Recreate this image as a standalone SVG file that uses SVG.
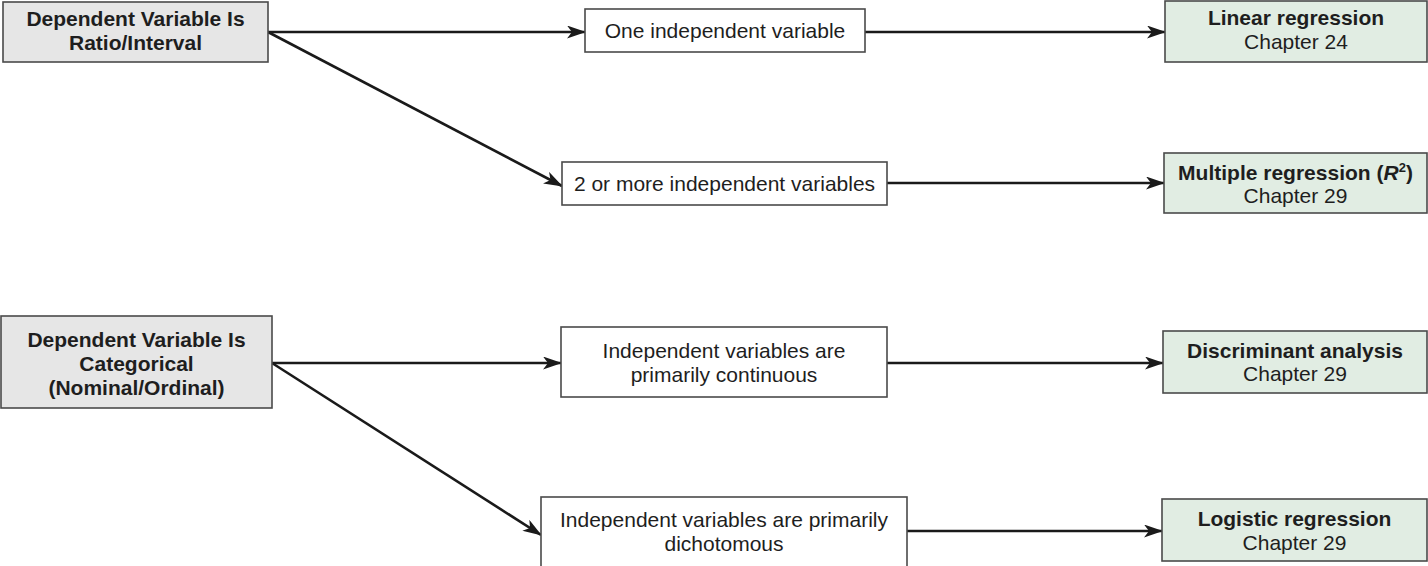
<svg xmlns="http://www.w3.org/2000/svg" width="1428" height="566" viewBox="0 0 1428 566">
  <style>
    .box { stroke: #4a4a4a; stroke-width: 1.6; }
    .dep { fill: #e6e6e6; }
    .mid { fill: #ffffff; }
    .res { fill: #e1ede3; }
    text { font-family: "Liberation Sans", Arial, sans-serif; font-size: 21px; fill: #1e1e1e; text-anchor: middle; }
    .b { font-weight: bold; }
    .conn { stroke: #1a1a1a; stroke-width: 2.6; fill: none; marker-end: url(#arrow); }
  </style>
  <defs>
    <marker id="arrow" markerUnits="userSpaceOnUse" markerWidth="22" markerHeight="14" refX="18" refY="6.5" orient="auto">
      <path d="M0,0 L19,6.5 L0,13 L5,6.5 z" fill="#1a1a1a"/>
    </marker>
  </defs>
  <rect width="1428" height="566" fill="#ffffff"/>

  <!-- connectors -->
  <g id="connectors">
    <line class="conn" x1="268" y1="32" x2="585" y2="32"/>
    <line class="conn" x1="268" y1="32" x2="562" y2="186"/>
    <line class="conn" x1="865" y1="32" x2="1165" y2="32"/>
    <line class="conn" x1="887" y1="183" x2="1164" y2="183"/>
    <line class="conn" x1="272" y1="363" x2="561" y2="363"/>
    <line class="conn" x1="272" y1="363" x2="541" y2="535"/>
    <line class="conn" x1="887" y1="363" x2="1163" y2="363"/>
    <line class="conn" x1="907" y1="531" x2="1162" y2="531"/>
  </g>

  <!-- dependent variable boxes -->
  <g id="dep-ratio">
    <rect class="box dep" x="3" y="2" width="265" height="60"/>
    <text class="b" x="135.5" y="26">Dependent Variable Is</text>
    <text class="b" x="135.5" y="50">Ratio/Interval</text>
  </g>
  <g id="dep-categorical">
    <rect class="box dep" x="1" y="316" width="271" height="92"/>
    <text class="b" x="136.5" y="347">Dependent Variable Is</text>
    <text class="b" x="136.5" y="371">Categorical</text>
    <text class="b" x="136.5" y="395">(Nominal/Ordinal)</text>
  </g>

  <!-- independent variable boxes -->
  <g id="one-iv">
    <rect class="box mid" x="585" y="9" width="280" height="43"/>
    <text x="725" y="38">One independent variable</text>
  </g>
  <g id="multi-iv">
    <rect class="box mid" x="562" y="162" width="325" height="43"/>
    <text x="724.5" y="191">2 or more independent variables</text>
  </g>
  <g id="continuous-iv">
    <rect class="box mid" x="561" y="327" width="326" height="70"/>
    <text x="724" y="358">Independent variables are</text>
    <text x="724" y="382">primarily continuous</text>
  </g>
  <g id="dichotomous-iv">
    <rect class="box mid" x="541" y="497" width="366" height="70"/>
    <text x="724" y="527">Independent variables are primarily</text>
    <text x="724" y="551">dichotomous</text>
  </g>

  <!-- analysis boxes -->
  <g id="linear-regression">
    <rect class="box res" x="1165" y="1" width="262" height="61"/>
    <text class="b" x="1296" y="25">Linear regression</text>
    <text x="1296" y="49">Chapter 24</text>
  </g>
  <g id="multiple-regression">
    <rect class="box res" x="1164" y="153" width="263" height="60"/>
    <text class="b" x="1295.5" y="180">Multiple regression (<tspan font-style="italic">R</tspan><tspan font-size="13" dy="-8">2</tspan><tspan dy="8">)</tspan></text>
    <text x="1295.5" y="203">Chapter 29</text>
  </g>
  <g id="discriminant-analysis">
    <rect class="box res" x="1163" y="331" width="264" height="62"/>
    <text class="b" x="1295" y="358">Discriminant analysis</text>
    <text x="1295" y="381">Chapter 29</text>
  </g>
  <g id="logistic-regression">
    <rect class="box res" x="1162" y="499" width="265" height="62"/>
    <text class="b" x="1294.5" y="526">Logistic regression</text>
    <text x="1294.5" y="550">Chapter 29</text>
  </g>
</svg>
